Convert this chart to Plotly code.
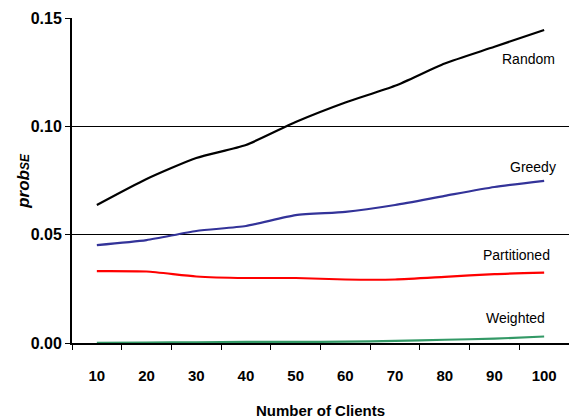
import plotly.graph_objects as go

clients = ["10", "20", "30", "40", "50", "60", "70", "80", "90", "100"]
random_v = [0.0637, 0.0757, 0.0854, 0.0914, 0.1020, 0.1110, 0.1187, 0.1290, 0.1367, 0.1445]
greedy_v = [0.0452, 0.0475, 0.0517, 0.0540, 0.0590, 0.0605, 0.0637, 0.0679, 0.0720, 0.0748]
partitioned_v = [0.0332, 0.0330, 0.0307, 0.0300, 0.0300, 0.0293, 0.0293, 0.0305, 0.0318, 0.0325]
weighted_v = [0.0001, 0.0002, 0.0003, 0.0005, 0.0005, 0.0006, 0.0010, 0.0015, 0.0020, 0.0030]

series = [
    ("Random", random_v, "#000000", 0.1311, 0.976),
    ("Greedy", greedy_v, "#333399", 0.0812, 0.978),
    ("Partitioned", partitioned_v, "#ff0000", 0.0406, 0.966),
    ("Weighted", weighted_v, "#339966", 0.0115, 0.956),
]

FONT = "Liberation Sans Narrow, Arial Narrow, Liberation Sans, Arial"

fig = go.Figure()
for name, vals, color, ly, lx in series:
    fig.add_trace(go.Scatter(x=clients, y=vals, mode="lines", name=name,
                             line=dict(color=color, width=2.2, shape="spline", smoothing=0.6)))
    fig.add_annotation(x=lx, xref="paper", y=ly, yref="y", text=name, showarrow=False,
                       xanchor="right", yanchor="middle",
                       font=dict(family=FONT, size=14, color="#000000"))

# y-axis title placed as a rotated annotation
fig.add_annotation(x=-0.098, xref="paper", y=0.5, yref="paper",
                   text="<b><i>prob<span style='font-size:12px'>SE</span></i></b>",
                   showarrow=False, textangle=-90, xanchor="center", yanchor="middle",
                   font=dict(family=FONT, size=17, color="#000000"))

fig.update_layout(
    width=569, height=420,
    margin=dict(l=72, r=0, t=18, b=77, autoexpand=False),
    paper_bgcolor="white", plot_bgcolor="white",
    showlegend=False,
    font=dict(family=FONT, size=15, color="#000000"),
    xaxis=dict(
        type="category", range=[-0.5, 9.5], tickson="boundaries", ticks="outside", ticklen=5,
        tickcolor="#000000", showline=True, linecolor="#000000", linewidth=2,
        showgrid=False, tickfont=dict(family=FONT, size=15, color="#000000", weight="bold"),
        ticklabelstandoff=18,
        title=dict(text="<b>Number of Clients</b>", font=dict(family=FONT, size=15), standoff=22),
    ),
    yaxis=dict(
        range=[0, 0.15], tickvals=[0, 0.05, 0.10, 0.15], ticktext=["0.00", "0.05", "0.10", "0.15"],
        ticks="outside", ticklen=5, tickcolor="#000000",
        showline=True, linecolor="#000000", linewidth=2,
        showgrid=True, gridcolor="#000000", gridwidth=1, zeroline=False,
        tickfont=dict(family=FONT, size=16, color="#000000", weight="bold"),
    ),
)

fig.write_html("out.html", config={"displayModeBar": False},
               post_script="document.body.style.margin='0';document.body.style.padding='0';")
